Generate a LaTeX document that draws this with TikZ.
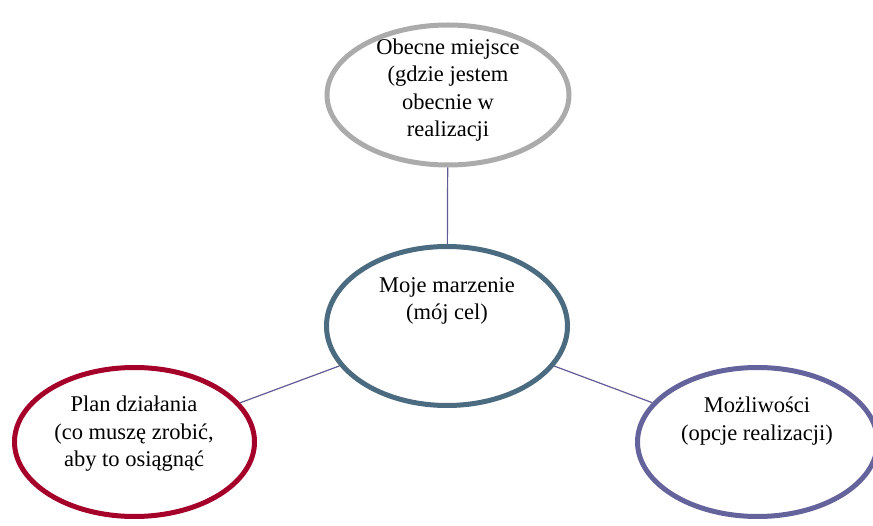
\documentclass[tikz,border=0pt]{standalone}
\usepackage{fontspec}
\setmainfont{Liberation Serif}
\usetikzlibrary{shapes.geometric}
\definecolor{cgray}{HTML}{ABABAB}
\definecolor{cslate}{HTML}{4B6B80}
\definecolor{cred}{HTML}{A5002A}
\definecolor{cpurple}{HTML}{65639C}
\definecolor{cline}{HTML}{5F5C96}
\begin{document}
\begin{tikzpicture}[x=1pt,y=-1pt,
  bubble/.style={ellipse, line width=5pt, fill=white, inner sep=0pt},
  txt/.style={align=center, font=\fontsize{22.5}{27.5}\selectfont, text=black, inner sep=0pt},
  link/.style={draw=cline, line width=1.2pt}]
\useasboundingbox (0,0) rectangle (873,526);
\clip (0,0) rectangle (873,526);
\node[bubble, draw=cgray, minimum width=242pt, minimum height=140pt] (top) at (448,95) {};
\node[bubble, draw=cslate, minimum width=241pt, minimum height=159pt] (mid) at (447,326) {};
\node[bubble, draw=cred, minimum width=240pt, minimum height=149pt] (left) at (134.5,442) {};
\node[bubble, draw=cpurple, minimum width=240pt, minimum height=149pt] (right) at (757.5,442) {};
\draw[link] (top) -- (mid);
\draw[link] (left) -- (mid);
\draw[link] (right) -- (mid);
\node[txt] (ttop) at (448,90) {Obecne miejsce\\(gdzie jestem\\obecnie w\\realizacji};
\node[txt] (tmid) at (447,301) {Moje marzenie\\(mój cel)};
\node[txt] (tleft) at (134,434) {Plan działania\\(co muszę zrobić,\\aby to osiągnąć};
\node[txt] (tright) at (757,421) {Możliwości\\(opcje realizacji)};
\end{tikzpicture}
\end{document}
